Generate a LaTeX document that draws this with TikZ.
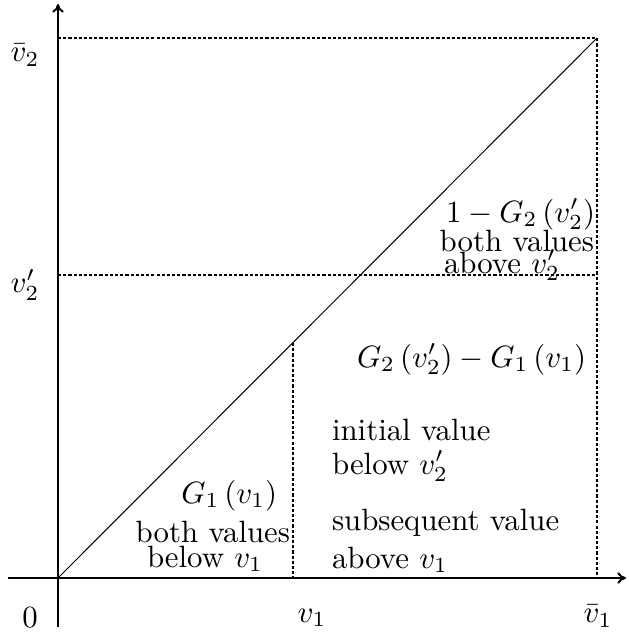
\RequirePackage{fix-cm}
\documentclass[tikz,border=0pt]{standalone}
\usetikzlibrary{arrows.meta}
\begin{document}
\begin{tikzpicture}[x=0.3472pt,y=-0.3472pt,
  every node/.style={font=\fontsize{10.7}{13}\selectfont},
  axis/.style={line width=0.7pt,-{To[length=3pt,width=4pt]}},
  guide/.style={line width=0.5pt,dash pattern=on 1.1pt off 0.7pt},
  diag/.style={line width=0.35pt},
  lbl/.style={inner sep=0pt,outer sep=0pt},
  txt/.style={inner sep=0pt,outer sep=0pt,anchor=base west},
  txtr/.style={inner sep=0pt,outer sep=0pt,anchor=base east}]
\useasboundingbox (0,0) rectangle (629,637);
% coordinates
\coordinate (O) at (58,578);
\coordinate (xs) at (8,578);
\coordinate (xe) at (626,578);
\coordinate (ys) at (58,627);
\coordinate (ye) at (58,4);
\coordinate (TL) at (58,38);
\coordinate (TR) at (597,38);
\coordinate (BR) at (597,578);
\coordinate (ML) at (58,275);
\coordinate (MR) at (597,275);
\coordinate (D) at (293,343);
\coordinate (DB) at (293,578);
% axes
\draw[axis] (xs) -- (xe);
\draw[axis] (ys) -- (ye);
% guides
\draw[guide] (TL) -- (TR) -- (BR);
\draw[guide] (ML) -- (MR);
\draw[guide] (D) -- (DB);
\draw[diag] (O) -- (TR);
% axis labels
\node[lbl] (zero) at (30,618) {$0$};
\node[lbl] (v1) at (312,618) {$v_1$};
\node[lbl] (bv1) at (598,616) {$\bar v_1$};
\node[lbl] (bv2) at (25,55) {$\bar v_2$};
\node[lbl] (v2p) at (25,285) {$v_2'$};
% region labels
\node[txtr] (t1) at (595,222) {$1-G_2\left(v_2'\right)$};
\node[txtr] (t2) at (594,251) {both values};
\node[txt] (t3) at (444,273) {above $v_2'$};
\node[txt] (t4) at (357,367) {$G_2\left(v_2'\right)-G_1\left(v_1\right)$};
\node[txt] (t5) at (332,440) {initial value};
\node[txt] (t6) at (332,474) {below $v_2'$};
\node[txt] (t7) at (332,530) {subsequent value};
\node[txt] (t8) at (332,568) {above $v_1$};
\node[txtr] (t9) at (277,503) {$G_1\left(v_1\right)$};
\node[txtr] (t10) at (290,542) {both values};
\node[txt] (t11) at (147,567) {below $v_1$};
\end{tikzpicture}
\end{document}
